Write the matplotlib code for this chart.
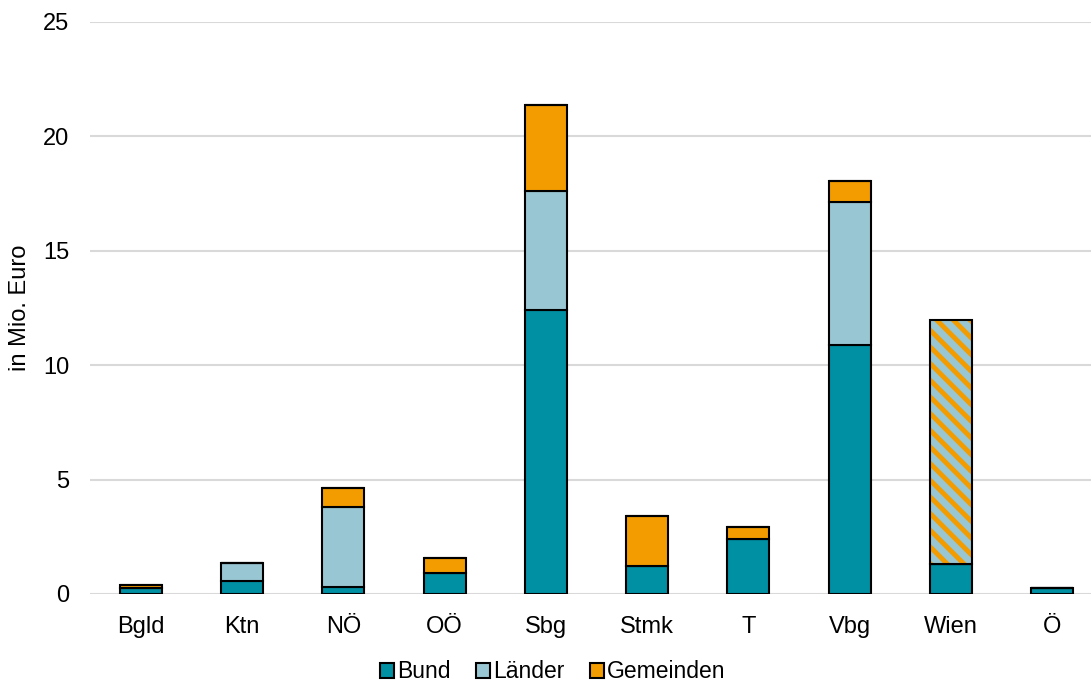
import matplotlib
matplotlib.use("Agg")
import matplotlib.pyplot as plt
import numpy as np
from matplotlib.patches import Patch

plt.rcParams['font.family'] = ['Liberation Sans', 'DejaVu Sans']
plt.rcParams['hatch.linewidth'] = 3.5

regions = ["Bgld", "Ktn", "NÖ", "OÖ", "Sbg", "Stmk", "T", "Vbg", "Wien", "Ö"]
bund = [0.27, 0.57, 0.30, 0.92, 12.41, 1.22, 2.40, 10.88, 1.31, 0.26]
laender = [0.0, 0.78, 3.50, 0.0, 5.20, 0.0, 0.0, 6.25, 0.0, 0.0]
gemeinden = [0.12, 0.0, 0.83, 0.65, 3.76, 2.19, 0.53, 0.92, 0.0, 0.0]
# Wien is Land and Gemeinde at once: one combined, striped segment
wien_land_gemeinde = [0.0, 0.0, 0.0, 0.0, 0.0, 0.0, 0.0, 0.0, 10.67, 0.0]
y_ticks = [0, 5, 10, 15, 20, 25]

c_bund = "#0090A4"
c_laender = "#99C6D3"
c_gem = "#F39C00"
fs = 17

fig = plt.figure(figsize=(10.91, 6.84), dpi=100)
ax = fig.add_axes([90 / 1091, 90 / 684, 1013 / 1091, 572 / 684])

x = np.arange(len(regions))
w = 0.415
b = np.array(bund)
l = np.array(laender)
g = np.array(gemeinden)
wl = np.array(wien_land_gemeinde)

kw = dict(width=w, edgecolor="black", linewidth=1.5, zorder=3)
ax.bar(x, b, color=c_bund, **kw)
ax.bar(x, l, bottom=b, color=c_laender, **kw)
ax.bar(x, g, bottom=b + l, color=c_gem, **kw)
# striped segment: hatch first, outline on top
ax.bar(x, wl, bottom=b + l + g, width=w, color=c_laender, edgecolor=c_gem,
       hatch="\\\\", linewidth=0, zorder=3)
ax.bar(x, wl, bottom=b + l + g, width=w, fill=False, edgecolor="black",
       linewidth=1.5, zorder=4)

ax.set_xlim(-0.5, 9.5)
ax.set_ylim(0, 25)
ax.set_yticks(y_ticks)
ax.set_xticks(x)
ax.set_xticklabels(regions)
ax.tick_params(axis="both", length=0, labelsize=fs, colors="black")
ax.tick_params(axis="x", pad=16)
ax.tick_params(axis="y", pad=15)
ax.yaxis.grid(True, color="#D9D9D9", linewidth=1.5, zorder=0)
ax.set_axisbelow(True)
for s in ax.spines.values():
    s.set_visible(False)
ax.set_ylabel("in Mio. Euro", fontsize=fs)
ax.yaxis.set_label_coords(-0.058, 0.5)

handles = [Patch(facecolor=c_bund, edgecolor="black", linewidth=1.5),
           Patch(facecolor=c_laender, edgecolor="black", linewidth=1.5),
           Patch(facecolor=c_gem, edgecolor="black", linewidth=1.5)]
fig.legend(handles, ["Bund", "Länder", "Gemeinden"], loc="center",
           bbox_to_anchor=(553 / 1091, 1 - 672 / 684), ncol=3, frameon=False,
           fontsize=16.5, handlelength=0.6, handleheight=0.6, handletextpad=0.15,
           columnspacing=1.1, borderpad=0.2)

fig.savefig("out.png", dpi=100)
